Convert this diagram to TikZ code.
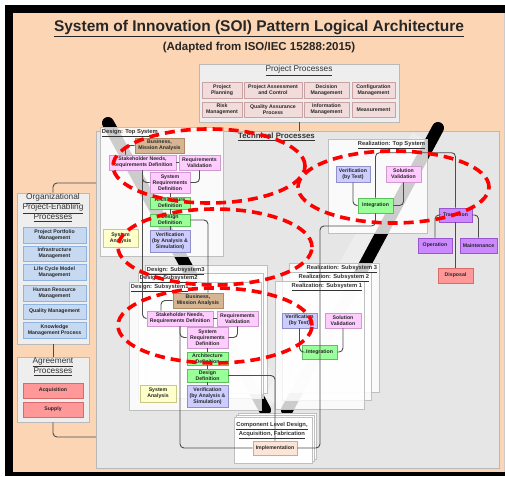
\documentclass[tikz,border=0pt]{standalone}
\usepackage{fontspec}
\setmainfont{Liberation Sans}
\usepackage{tikz}
\usetikzlibrary{positioning}
\definecolor{peachbg}{HTML}{FCD5B4}
\definecolor{panelgray}{HTML}{EEEEEE}
\definecolor{techgray}{HTML}{E6E6E6}
\definecolor{rosefill}{HTML}{F2DCDB}
\definecolor{roseline}{HTML}{C9A3A3}
\definecolor{bluefill}{HTML}{C6D9F1}
\definecolor{blueline}{HTML}{8DB3E2}
\definecolor{salmonfill}{HTML}{FF9999}
\definecolor{salmonline}{HTML}{D96A6A}
\definecolor{tanfill}{HTML}{D6B592}
\definecolor{tanline}{HTML}{B08A66}
\definecolor{pinkfill}{HTML}{FFCCFF}
\definecolor{pinkline}{HTML}{D09AD0}
\definecolor{greenfill}{HTML}{99FF99}
\definecolor{greenline}{HTML}{5FBF5F}
\definecolor{lavfill}{HTML}{CCCCFF}
\definecolor{lavline}{HTML}{9090C8}
\definecolor{yelfill}{HTML}{FFFFCC}
\definecolor{yelline}{HTML}{C8C888}
\definecolor{violetfill}{HTML}{CC88FF}
\definecolor{violetline}{HTML}{9955CC}
\definecolor{implfill}{HTML}{FCE4D6}
\definecolor{implline}{HTML}{D4A88C}
\newcommand{\procfont}{\fontsize{5.2}{6.2}\selectfont\bfseries}
\newcommand{\stagefont}{\fontsize{5.8}{6.8}\selectfont\bfseries}
\newcommand{\panelfont}{\fontsize{8.3}{10}\selectfont}
\tikzset{
  panel/.style={draw=gray!55, fill=panelgray, line width=0.8pt, inner sep=0pt},
  stage/.style={draw=gray!50, fill=white, fill opacity=0.8, line width=0.6pt, inner sep=0pt},
  page/.style={draw=gray!50, fill=white, line width=0.6pt, inner sep=0pt},
  proc/.style={draw, line width=0.6pt, inner sep=0.3pt, align=center, font=\procfont, text=black!85},
  rosebox/.style={proc, draw=roseline, fill=rosefill},
  bluebox/.style={proc, draw=blueline, fill=bluefill},
  salmonbox/.style={proc, draw=salmonline, fill=salmonfill},
  tanbox/.style={proc, draw=tanline, fill=tanfill},
  pinkbox/.style={proc, draw=pinkline, fill=pinkfill},
  greenbox/.style={proc, draw=greenline, fill=greenfill},
  lavbox/.style={proc, draw=lavline, fill=lavfill},
  yelbox/.style={proc, draw=yelline, fill=yelfill},
  violetbox/.style={proc, draw=violetline, fill=violetfill},
  implbox/.style={proc, draw=implline, fill=implfill},
  stagelbl/.style={font=\stagefont, inner sep=1pt, text=black!80},
  paneltitle/.style={font=\panelfont, align=center, inner sep=0pt, text=black!80},
  link/.style={draw=black!70, line width=0.9pt, rounded corners=4pt},
  vleg/.style={line width=12pt, line cap=round},
  vglow/.style={line width=22pt, white, opacity=0.3},
  ring/.style={red, line width=3.6pt, dash pattern=on 10pt off 6pt},
}

\begin{document}
\begin{tikzpicture}[x=1pt, y=-1pt]
\useasboundingbox (0,0) rectangle (505,476);
%Frame
\fill[white] (0,0) rectangle (505,476);
\fill[black] (5,5) rectangle (505,476);
\fill[peachbg] (13,13) rectangle (505,472);
\draw[gray!40, line width=1pt] (504.5,13) -- (504.5,472);

%Title
\node[font=\fontsize{15.5}{18}\selectfont\bfseries, text=black!85, anchor=base] (title) at (259,31.5) {\underline{System of Innovation (SOI) Pattern Logical Architecture}};
\node[font=\fontsize{11.5}{13}\selectfont\bfseries, text=black!85, anchor=base] (subtitle) at (259,51) {(Adapted from ISO/IEC 15288:2015)};

%Panels
\node[panel, minimum width=200, minimum height=58] (projPanel) at (299,93) {};
\node[paneltitle, anchor=north] (projTitle) at ([yshift=-2pt]projPanel.north) {\underline{Project Processes}};
\node[panel, minimum width=72, minimum height=151] (orgPanel) at (53,268.5) {};
\node[paneltitle, anchor=north] (orgTitle) at ([yshift=-1pt]orgPanel.north) {\underline{Organizational}\\\underline{Project-Enabling}\\\underline{Processes}};
\node[panel, minimum width=72, minimum height=65] (agrPanel) at (53,389.5) {};
\node[paneltitle, anchor=north] (agrTitle) at ([yshift=-1pt]agrPanel.north) {\underline{Agreement}\\\underline{Processes}};
\node[panel, fill=techgray, minimum width=403, minimum height=337] (techPanel) at (297.5,299.5) {};
\node[paneltitle, font=\fontsize{7.8}{9}\selectfont\bfseries] (techTitle) at (276.5,136.5) {\underline{Technical Processes}};

%V arms
\draw[vglow] (124,135) -- (276,402);
\draw[vglow] (422,138) -- (274,402);
\draw[vleg] (108,123) -- (265,410);
\draw[vleg] (438,128) -- (287,410);

%Stages
\node[stage, minimum width=123, minimum height=129] (dTop) at (161.5,191.5) {};
\node[stage, minimum width=99, minimum height=94] (rTop) at (377.5,186) {};
\node[stage, minimum width=122, minimum height=128] (dSub3) at (206,329) {};
\node[stage, minimum width=125, minimum height=125] (dSub2) at (200.5,335.5) {};
\node[stage, minimum width=132, minimum height=128] (dSub1) at (195,346) {};
\node[stage, minimum width=90, minimum height=129] (rSub3) at (334,327.5) {};
\node[stage, minimum width=89, minimum height=128] (rSub2) at (326.5,336) {};
\node[stage, minimum width=89, minimum height=128] (rSub1) at (319.5,345) {};
\node[page, minimum width=78, minimum height=46] (page3) at (277,436) {};
\node[page, minimum width=78, minimum height=46] (page2) at (275,438) {};
\node[page, minimum width=78, minimum height=46] (page1) at (273,440) {};

\node[stagelbl, anchor=north west] at ([xshift=1pt, yshift=-1pt]dTop.north west) {\underline{Design: Top System}};
\node[stagelbl, anchor=north east] at ([xshift=-1pt, yshift=-1pt]rTop.north east) {\underline{Realization: Top System}};
\node[stagelbl, anchor=north west] at ([xshift=1pt, yshift=-1pt]dSub3.north west) {\underline{Design: Subsystem3}};
\node[stagelbl, anchor=north west] at ([xshift=1pt, yshift=-1pt]dSub2.north west) {\underline{Design: Subsystem2}};
\node[stagelbl, anchor=north west] at ([xshift=1pt, yshift=-1pt]dSub1.north west) {\underline{Design: Subsystem1}};
\node[stagelbl, anchor=north east] at ([xshift=-1pt, yshift=-1pt]rSub3.north east) {\underline{Realization: Subsystem 3}};
\node[stagelbl, anchor=north east] at ([xshift=-1pt, yshift=-1pt]rSub2.north east) {\underline{Realization: Subsystem 2}};
\node[stagelbl, anchor=north east] at ([xshift=-1pt, yshift=-1pt]rSub1.north east) {\underline{Realization: Subsystem 1}};
\node[stagelbl, align=center] (compTitle) at (272,430.5) {\underline{Component Level Design,}\\\underline{Acquisition, Fabrication}};

%Nodes
% project processes
\node[rosebox, minimum width=40, minimum height=16] (ppPlan) at (222,90) {Project\\Planning};
\node[rosebox, minimum width=58, minimum height=16] (ppAssess) at (273,90) {Project Assessment\\and Control};
\node[rosebox, minimum width=45, minimum height=16] (ppDecision) at (326.5,90) {Decision\\Management};
\node[rosebox, minimum width=43, minimum height=16] (ppConfig) at (373.5,90) {Configuration\\Management};
\node[rosebox, minimum width=40, minimum height=15] (ppRisk) at (222,109.5) {Risk\\Management};
\node[rosebox, minimum width=58, minimum height=15] (ppQuality) at (273,109.5) {Quality Assurance\\Process};
\node[rosebox, minimum width=45, minimum height=15] (ppInfo) at (326.5,109.5) {Information\\Management};
\node[rosebox, minimum width=43, minimum height=15] (ppMeasure) at (373.5,109.5) {Measurement};

% organizational project-enabling
\node[bluebox, minimum width=63, minimum height=16] (orgPortfolio) at (54.5,235) {Project Portfolio\\Management};
\node[bluebox, minimum width=63, minimum height=15] (orgInfra) at (54.5,253.5) {Infrastructure\\Management};
\node[bluebox, minimum width=63, minimum height=16] (orgLifeCycle) at (54.5,272) {Life Cycle Model\\Management};
\node[bluebox, minimum width=63, minimum height=16] (orgHuman) at (54.5,293) {Human Resource\\Management};
\node[bluebox, minimum width=63, minimum height=15] (orgQuality) at (54.5,311.5) {Quality Management};
\node[bluebox, minimum width=63, minimum height=16] (orgKnowledge) at (54.5,330) {Knowledge\\Management Process};

% agreement
\node[salmonbox, minimum width=60, minimum height=15] (acq) at (53,390.5) {Acquisition};
\node[salmonbox, minimum width=60, minimum height=15] (supply) at (53,409.5) {Supply};

% design: top system
\node[tanbox, minimum width=49, minimum height=15] (bmaTop) at (159.5,145.5) {Business,\\Mission Analysis};
\node[pinkbox, minimum width=67, minimum height=15] (sndTop) at (142.5,162.5) {Stakeholder Needs,\\Requirements Definition};
\node[pinkbox, minimum width=41, minimum height=15] (rvTop) at (199.5,162.5) {Requirements\\Validation};
\node[pinkbox, minimum width=40, minimum height=21] (srdTop) at (170,182.5) {System\\Requirements\\Definition};
\node[greenbox, minimum width=40, minimum height=12] (adTop) at (170,203) {Architecture\\Definition};
\node[greenbox, minimum width=40, minimum height=12] (ddTop) at (170,220) {Design\\Definition};
\node[lavbox, minimum width=40, minimum height=22] (vasTop) at (170,241) {Verification\\(by Analysis \&\\Simulation)};
\node[yelbox, minimum width=35, minimum height=18] (saTop) at (120.5,238) {System\\Analysis};

% realization: top system
\node[lavbox, minimum width=34, minimum height=16] (vtTop) at (353,174) {Verification\\(by Test)};
\node[pinkbox, minimum width=35, minimum height=16] (svTop) at (403.5,174) {Solution\\Validation};
\node[greenbox, minimum width=35, minimum height=15] (intTop) at (375.5,205.5) {Integration};
\node[violetbox, minimum width=33, minimum height=14] (trans) at (455.5,215) {Transition};
\node[violetbox, minimum width=34, minimum height=15] (op) at (435,245.5) {Operation};
\node[violetbox, minimum width=37, minimum height=15] (mt) at (478.5,245.5) {Maintenance};
\node[salmonbox, minimum width=35, minimum height=15] (disp) at (455.5,275.5) {Disposal};

% design: subsystem
\node[tanbox, minimum width=50, minimum height=15] (bmaSub) at (198,300.5) {Business,\\Mission Analysis};
\node[pinkbox, minimum width=66, minimum height=15] (sndSub) at (180,318.5) {Stakeholder Needs,\\Requirements Definition};
\node[pinkbox, minimum width=41, minimum height=15] (rvSub) at (237.5,318.5) {Requirements\\Validation};
\node[pinkbox, minimum width=41, minimum height=21] (srdSub) at (207.5,337.5) {System\\Requirements\\Definition};
\node[greenbox, minimum width=41, minimum height=13] (adSub) at (207.5,358.5) {Architecture\\Definition};
\node[greenbox, minimum width=41, minimum height=13] (ddSub) at (207.5,375.5) {Design\\Definition};
\node[lavbox, minimum width=41, minimum height=22] (vasSub) at (207.5,396) {Verification\\(by Analysis \&\\Simulation)};
\node[yelbox, minimum width=36, minimum height=17] (saSub) at (158,393.5) {System\\Analysis};

% realization: subsystem
\node[lavbox, minimum width=35, minimum height=15] (vtSub) at (299.5,320.5) {Verification\\(by Test)};
\node[pinkbox, minimum width=36, minimum height=15] (svSub) at (343,320.5) {Solution\\Validation};
\node[greenbox, minimum width=35, minimum height=14] (intSub) at (319.5,352) {Integration};

% component level
\node[implbox, minimum width=44, minimum height=14] (impl) at (275,448) {Implementation};

%Lines
\draw[link] (projPanel.south) -- (projPanel.south |- techPanel.north);
\coordinate (orgLink) at (96,183);
\draw[link] (orgPanel.north) |- (orgLink);
\draw[link] (orgPanel.south) -- (agrPanel.north);
\coordinate (agrLink) at (96,437);
\draw[link] (agrPanel.south) |- (agrLink);

\draw[link] (bmaTop.west) -| ([xshift=-17pt]sndTop.north);
\draw[link] (sndTop.east) -- (rvTop.west);
\draw[link] (sndTop.south) |- (srdTop.west);
\draw[link] (rvTop.south) |- (srdTop.east);
\draw[link] (srdTop.south) -- (adTop.north);
\draw[link] (adTop.south) -- (ddTop.north);
\draw[link] (ddTop.south) -- (vasTop.north);
\draw[link] (ddTop.east) -| ([xshift=10pt]bmaSub.north);
\draw[link] (sndTop.south) |- (sndSub.west);

\draw[link] (bmaSub.west) -| ([xshift=-19pt]sndSub.north);
\draw[link] (sndSub.east) -- (rvSub.west);
\draw[link] (sndSub.south) |- (srdSub.west);
\draw[link] (rvSub.south) |- (srdSub.east);
\draw[link] (srdSub.south) -- (adSub.north);
\draw[link] (adSub.south) -- (ddSub.north);
\draw[link] (ddSub.south) -- (vasSub.north);
\draw[link] (sndSub.south) |- (impl.west);
\draw[link] (ddSub.east) -| (impl.north);

\draw[link] (vtTop.south) |- (intTop.west);
\draw[link] (svTop.south) |- (intTop.east);
\draw[link] (intTop.north) -- ++(0,-45) -| (trans.north);
\draw[link] (trans.west) -| (op.north);
\draw[link] (trans.east) -| (mt.north);
\draw[link] (trans.south) -- (disp.north);
\coordinate (riseR) at (320,226);
\draw[link] (impl.east) -| (riseR) -| (intTop.south);

\draw[link] (vtSub.south) |- (intSub.west);
\draw[link] (svSub.south) |- (intSub.east);

%Rings
\draw[ring] (209,166) ellipse [x radius=96pt, y radius=37pt];
\draw[ring] (393.5,187) ellipse [x radius=95.5pt, y radius=36pt];
\draw[ring] (215,247) ellipse [x radius=97pt, y radius=38pt];
\draw[ring] (215,325.5) ellipse [x radius=97pt, y radius=37.5pt];
\end{tikzpicture}
\end{document}
